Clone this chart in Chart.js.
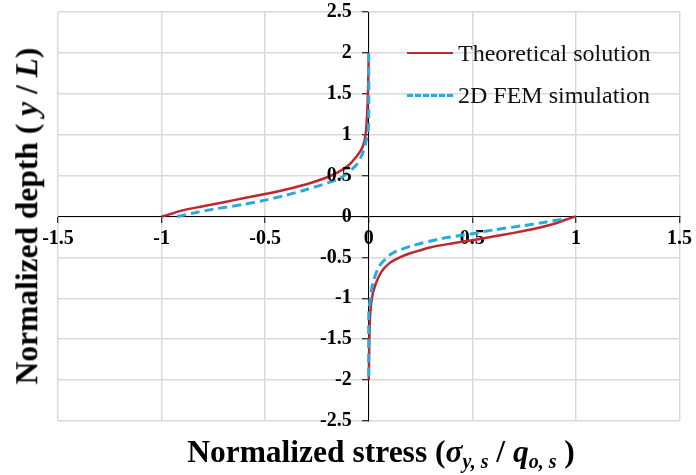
<!DOCTYPE html>
<html>
<head>
<meta charset="utf-8">
<script src="https://cdn.jsdelivr.net/npm/chart.js@4"></script>
<style>
  html, body { margin: 0; padding: 0; background: #fff; }
  #wrap { position: relative; width: 696px; height: 475px; }
  #chart { position: absolute; left: 0; top: 0; }
  .title { position: absolute; font-family: "Liberation Serif", "Times New Roman", serif; font-weight: bold; font-size: 31.5px; color: #000; white-space: nowrap; line-height: 1; }
  .title sub { font-size: 20px; vertical-align: -6px; }
  #xTitle { left: 381px; top: 436px; transform: translateX(-50%); }
  #yTitle { left: 27px; top: 216px; transform: translate(-50%, -50%) rotate(-90deg); }
  #legend { position: absolute; left: 407px; top: 32px; font-family: "Liberation Serif", "Times New Roman", serif; font-size: 24px; color: #111; }
  .item { display: flex; align-items: center; height: 42px; }
  .swatch { width: 46px; height: 0; margin-right: 5px; }
</style>
</head>
<body>
<div id="wrap">
  <canvas id="chart" width="696" height="475"></canvas>
  <div id="yTitle" class="title">Normalized depth ( <i>y</i> / <i>L</i>)</div>
  <div id="xTitle" class="title">Normalized stress (<i>σ<sub>y, s</sub></i> / <i>q<sub>o, s</sub></i> )</div>
  <div id="legend">
    <div class="item"><span class="swatch" style="border-top: 2.5px solid #c0282f;"></span>Theoretical solution</div>
    <div class="item"><span class="swatch" style="border-top: 3px dashed #2aa9e0;"></span>2D FEM simulation</div>
  </div>
</div>
<script>
// theoretical solution, upper and lower branches
const theoryUpperX = [-1, -0.97, -0.9, -0.8, -0.7, -0.6, -0.5, -0.4, -0.3, -0.2, -0.15, -0.1, -0.06, -0.03, -0.015, -0.007, -0.003, 0];
const theoryUpperY = [0, 0.02, 0.075, 0.125, 0.175, 0.225, 0.275, 0.33, 0.395, 0.48, 0.54, 0.62, 0.73, 0.85, 1.0, 1.3, 1.6, 2.0];
const theoryLowerX = [1, 0.95, 0.9, 0.8, 0.7, 0.6, 0.5, 0.4, 0.3, 0.2, 0.15, 0.1, 0.06, 0.03, 0.015, 0.007, 0.003, 0];
const theoryLowerY = [0, -0.04, -0.085, -0.15, -0.2, -0.245, -0.29, -0.33, -0.375, -0.45, -0.5, -0.57, -0.68, -0.85, -1.0, -1.2, -1.5, -2.0];

// 2D FEM simulation
const femUpperX = [-0.925, -0.85, -0.75, -0.6, -0.5, -0.4, -0.3, -0.2, -0.13, -0.06, -0.03, -0.012, -0.003, 0, 0];
const femUpperY = [0, 0.04, 0.09, 0.15, 0.2, 0.26, 0.33, 0.41, 0.48, 0.63, 0.77, 0.93, 1.05, 1.2, 2.0];
const femLowerX = [0.93, 0.85, 0.75, 0.6, 0.5, 0.35, 0.2, 0.11, 0.05, 0.025, 0.013, 0.005, 0, 0];
const femLowerY = [-0.035, -0.07, -0.11, -0.165, -0.21, -0.27, -0.365, -0.455, -0.61, -0.77, -0.9, -1.05, -1.2, -2.0];

const xTicks = [-1.5, -1, -0.5, 0, 0.5, 1, 1.5];
const yTicks = [-2.5, -2, -1.5, -1, -0.5, 0, 0.5, 1, 1.5, 2, 2.5];

const RED = "#c0282f";
const BLUE = "#2aa9e0";

const pts = (xs, ys) => xs.map((x, i) => ({ x: x, y: ys[i] }));

const lineDs = (data, color, dashed, order) => ({
  data: data,
  showLine: true,
  borderColor: color,
  borderWidth: dashed ? 3 : 2.5,
  borderDash: dashed ? [9, 5] : [],
  pointRadius: 0,
  tension: 0.25,
  fill: false,
  order: order
});

const tickFont = { family: "'Liberation Serif', 'Times New Roman', serif", size: 20, weight: "bold" };

// y labels sit left of the centred y axis; Chart.js puts them right on the line
const yLabelsPlugin = {
  id: "yLabels",
  afterDraw(chart) {
    const { ctx, scales } = chart;
    const x0 = scales.x.getPixelForValue(0) - 17;
    ctx.save();
    ctx.font = "bold 20px 'Liberation Serif', 'Times New Roman', serif";
    ctx.fillStyle = "#000";
    ctx.textAlign = "right";
    ctx.textBaseline = "middle";
    yTicks.forEach((v) => {
      ctx.fillText(String(v), x0, scales.y.getPixelForValue(v));
    });
    ctx.restore();
  }
};

new Chart(document.getElementById("chart"), {
  type: "scatter",
  data: {
    datasets: [
      lineDs(pts(theoryUpperX, theoryUpperY), RED, false, 2),
      lineDs(pts(theoryLowerX, theoryLowerY), RED, false, 2),
      lineDs(pts(femUpperX, femUpperY), BLUE, true, 1),
      lineDs(pts(femLowerX, femLowerY), BLUE, true, 1)
    ]
  },
  options: {
    responsive: false,
    animation: false,
    layout: { padding: { left: 58, right: 13, top: 12, bottom: 54 } },
    plugins: { legend: { display: false }, tooltip: { enabled: false } },
    scales: {
      x: {
        type: "linear",
        position: { y: 0 },
        min: -1.5, max: 1.5,
        afterBuildTicks: (s) => { s.ticks = xTicks.map(v => ({ value: v })); },
        afterFit: (s) => { s.height = 0; },
        grid: { color: "#d9d9d9", lineWidth: 1.5, tickColor: "#000", tickLength: 6, tickWidth: 1 },
        border: { color: "#000", width: 1 },
        ticks: { font: tickFont, color: "#000", padding: 4, maxRotation: 0, callback: (v) => String(v) }
      },
      y: {
        type: "linear",
        position: { x: 0 },
        min: -2.5, max: 2.5,
        afterBuildTicks: (s) => { s.ticks = yTicks.map(v => ({ value: v })); },
        afterFit: (s) => { s.width = 0; },
        grid: { color: "#d9d9d9", lineWidth: 1.5, tickColor: "#000", tickLength: 6, tickWidth: 1 },
        border: { color: "#000", width: 1 },
        ticks: { display: false }
      }
    }
  },
  plugins: [yLabelsPlugin]
});
</script>
</body>
</html>
